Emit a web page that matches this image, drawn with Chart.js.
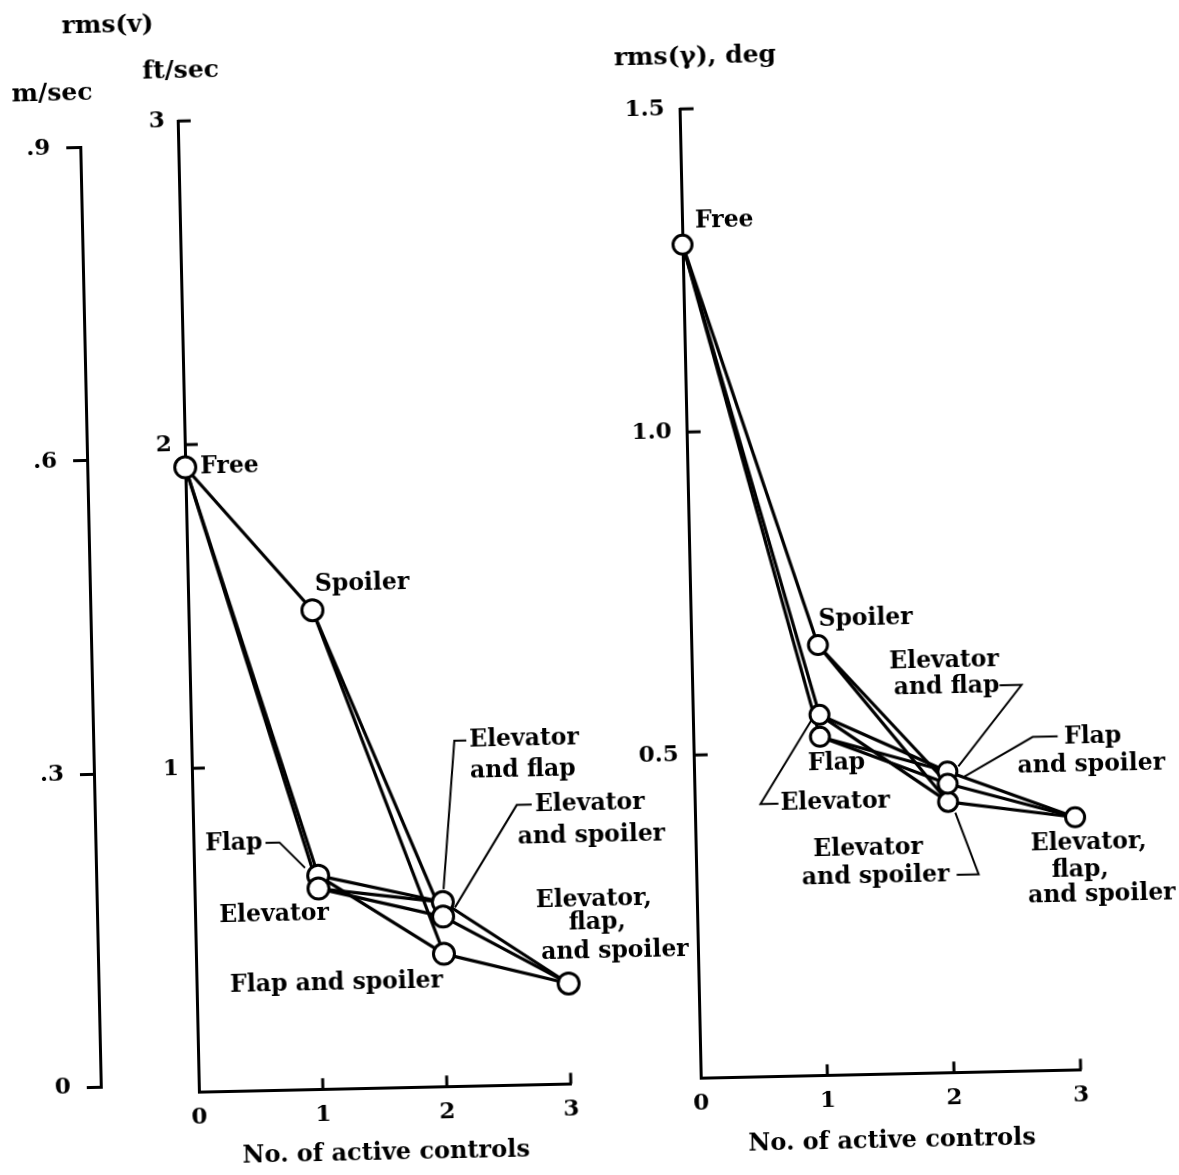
<!DOCTYPE html>
<html>
<head>
<meta charset="utf-8">
<script src="https://cdn.jsdelivr.net/npm/chart.js@4.4.1/dist/chart.umd.min.js"></script>
<style>
  html, body { margin: 0; padding: 0; background: #fff; overflow: hidden; }
  /* the scanned figure sits slightly askew on the page */
  #sheet { position: absolute; left: 0; top: 0; width: 1179px; height: 1175px;
           transform: rotate(-1.25deg); transform-origin: 589.5px 587.5px; }
  #sheet canvas { position: absolute; top: 0; }
  #velocity_chart { left: 0; }
  #gamma_chart { left: 600px; }
</style>
</head>
<body>
<div id="sheet">
  <canvas id="velocity_chart" width="710" height="1175"></canvas>
  <canvas id="gamma_chart" width="579" height="1175"></canvas>
</div>
<script>
var configurations = ['Free', 'Spoiler', 'Flap', 'Elevator', 'Elevator and flap',
                      'Elevator and spoiler', 'Flap and spoiler', 'Elevator, flap, and spoiler'];
var active_controls = [0, 1, 1, 1, 2, 2, 2, 3];
var rms_v_ftps = [1.93, 1.48, 0.66, 0.62, 0.57, 0.525, 0.41, 0.31];
var rms_gamma_deg = [1.29, 0.666, 0.524, 0.558, 0.466, 0.419, 0.447, 0.391];
// each configuration is joined to those that switch on one more control
var links = [[0,1],[0,2],[0,3],[1,5],[1,6],[2,4],[2,6],[3,4],[3,5],[4,7],[5,7],[6,7]];

var control_ticks = [0, 1, 2, 3];
var ftps_ticks = [0, 1, 2, 3];
var mps_ticks = [0, 0.3, 0.6, 0.9];
var gamma_ticks = [0, 0.5, 1.0, 1.5];

// label placement, offsets in px from the marker
var velocity_labels = [
  {point: 0, lines: [['Free', 15, 0, 'left']]},
  {point: 1, lines: [['Spoiler', 3, -25, 'left']]},
  {point: 2, lines: [['Flap', -55, -34, 'right']], leader: [[-52,-34],[-38,-34],[-13,-8]]},
  {point: 3, lines: [['Elevator', -45, 25, 'center']]},
  {point: 4, lines: [['Elevator', 30, -161, 'left'], ['and flap', 30, -130, 'left']], leader: [[27,-161],[15,-161],[1,-13]]},
  {point: 5, lines: [['Elevator', 149, -109, 'center'], ['and spoiler', 150, -77, 'center']], leader: [[91,-110],[76,-110],[12,-9]]},
  {point: 6, lines: [['Flap and spoiler', -108, 27, 'center']]},
  {point: 7, lines: [['Elevator,', 27, -83, 'center'], ['flap,', 30, -60, 'center'], ['and spoiler', 47, -31, 'center']]}
];
var gamma_labels = [
  {point: 0, lines: [['Free', 13, -23, 'left']]},
  {point: 1, lines: [['Spoiler', 1, -25, 'left']]},
  {point: 2, lines: [['Flap', 16, 27, 'center']]},
  {point: 3, lines: [['Elevator', -41, 88, 'left']], leader: [[-43,88],[-61,88],[-8,5]]},
  {point: 4, lines: [['Elevator', -1, -110, 'center'], ['and flap', 1, -84, 'center']], leader: [[54,-85],[76,-85],[11,-5]]},
  {point: 5, lines: [['Elevator', -81, 45, 'center'], ['and spoiler', -74, 73, 'center']], leader: [[7,73],[29,73],[7,11]]},
  {point: 6, lines: [['Flap', 146, -44, 'center'], ['and spoiler', 144, -16, 'center']], leader: [[111,-45],[86,-45],[17,-7]]},
  {point: 7, lines: [['Elevator,', 13, 26, 'center'], ['flap,', 4, 53, 'center'], ['and spoiler', 25, 78, 'center']]}
];

Chart.defaults.font.family = '"DejaVu Serif", serif';
Chart.defaults.font.size = 23;
Chart.defaults.font.weight = 'bold';
Chart.defaults.color = '#000';

var inner_ticks_plugin = {
  id: 'inner_ticks',
  beforeDatasetsDraw: function(chart, args, opts) {
    var ctx = chart.ctx, area = chart.chartArea;
    ctx.save();
    ctx.strokeStyle = '#000';
    ctx.lineWidth = 3;
    ['x', 'y'].forEach(function(id) {
      var s = chart.scales[id];
      s.ticks.forEach(function(t) {
        if (t.value === s.min) return;
        var p = s.getPixelForValue(t.value);
        ctx.beginPath();
        if (s.isHorizontal()) {
          ctx.moveTo(p, area.bottom);
          ctx.lineTo(p, area.bottom - opts.x_length);
        } else {
          ctx.moveTo(area.left, p);
          ctx.lineTo(area.left + opts.y_length, p);
        }
        ctx.stroke();
      });
    });
    if (opts.spine) {
      var m = chart.scales[opts.spine];
      var vals = m.ticks.map(function(t) { return t.value; });
      ctx.beginPath();
      ctx.moveTo(m.right - 1.5, m.getPixelForValue(Math.max.apply(null, vals)) - 1.5);
      ctx.lineTo(m.right - 1.5, m.getPixelForValue(Math.min.apply(null, vals)) + 1.5);
      ctx.stroke();
    }
    ctx.restore();
  }
};

var texts_plugin = {
  id: 'figure_texts',
  afterDatasetsDraw: function(chart, args, opts) {
    var ctx = chart.ctx;
    var pts = chart.getDatasetMeta(0).data;
    ctx.save();
    ctx.fillStyle = '#000';
    ctx.strokeStyle = '#000';
    ctx.lineWidth = 2;
    ctx.textBaseline = 'middle';
    ctx.font = 'bold 25px "DejaVu Serif"';
    (opts.titles || []).forEach(function(t) {
      ctx.textAlign = 'center';
      ctx.fillText(t[0], t[1], t[2]);
    });
    ctx.font = 'bold 23.5px "DejaVu Serif"';
    (opts.labels || []).forEach(function(l) {
      var p = pts[l.point];
      l.lines.forEach(function(ln) {
        ctx.textAlign = ln[3];
        ctx.fillText(ln[0], p.x + ln[1], p.y + ln[2]);
      });
      if (l.leader) {
        ctx.beginPath();
        l.leader.forEach(function(o, k) {
          if (k) ctx.lineTo(p.x + o[0], p.y + o[1]);
          else ctx.moveTo(p.x + o[0], p.y + o[1]);
        });
        ctx.stroke();
      }
    });
    ctx.restore();
  }
};

function make_datasets(values, radius) {
  var sets = [{
    label: 'configurations',
    data: active_controls.map(function(x, i) { return {x: x, y: values[i]}; }),
    pointRadius: radius,
    pointBorderWidth: 3,
    pointBackgroundColor: '#fff',
    pointBorderColor: '#000',
    showLine: false,
    order: 0,
    clip: false
  }];
  links.forEach(function(l) {
    sets.push({
      label: configurations[l[0]] + ' - ' + configurations[l[1]],
      data: [{x: active_controls[l[0]], y: values[l[0]]}, {x: active_controls[l[1]], y: values[l[1]]}],
      showLine: true,
      borderColor: '#000',
      borderWidth: 3.2,
      pointRadius: 0,
      order: 1,
      clip: false
    });
  });
  return sets;
}

function control_axis(height) {
  return {
    type: 'linear', min: 0, max: 3,
    afterBuildTicks: function(s) { s.ticks = control_ticks.map(function(v) { return {value: v}; }); },
    afterFit: function(s) { s.height = height; },
    grid: {display: false},
    border: {display: true, color: '#000', width: 3},
    ticks: {padding: 4},
    title: {display: true, text: 'No. of active controls', padding: 0, font: {size: 24}}
  };
}

new Chart(document.getElementById('velocity_chart'), {
  type: 'scatter',
  data: {datasets: make_datasets(rms_v_ftps, 10.5)},
  options: {
    responsive: false,
    animation: false,
    events: [],
    layout: {padding: {left: 0, top: 112.2, right: 150, bottom: 11.8}},
    plugins: {
      legend: {display: false},
      tooltip: {enabled: false},
      inner_ticks: {x_length: 11, y_length: 13, spine: 'ym'},
      figure_texts: {
        titles: [['rms(v)', 120, 15], ['ft/sec', 192, 62], ['m/sec', 63, 82]],
        labels: velocity_labels
      }
    },
    scales: {
      x: control_axis(79.9),
      y: {
        type: 'linear', position: 'left', weight: 0, min: 0, max: 3,
        afterBuildTicks: function(s) { s.ticks = ftps_ticks.map(function(v) { return {value: v}; }); },
        afterFit: function(s) { s.width = 96; },
        grid: {display: false},
        border: {display: true, color: '#000', width: 3},
        ticks: {padding: 5, callback: function(v) { return v === 0 ? '' : String(v); }}
      },
      ym: {
        type: 'linear', position: 'left', weight: 1, min: -0.0065, max: 0.9235,
        afterBuildTicks: function(s) { s.ticks = mps_ticks.map(function(v) { return {value: v}; }); },
        afterFit: function(s) { s.width = 92; },
        grid: {display: true, drawOnChartArea: false, drawTicks: true, tickLength: 16, color: '#000', lineWidth: 3},
        border: {display: false},
        ticks: {padding: 16, callback: function(v) { return v === 0 ? '0' : '.' + Math.round(v * 10); }}
      }
    }
  },
  plugins: [inner_ticks_plugin, texts_plugin]
});

new Chart(document.getElementById('gamma_chart'), {
  type: 'scatter',
  data: {datasets: make_datasets(rms_gamma_deg, 9.5)},
  options: {
    responsive: false,
    animation: false,
    events: [],
    layout: {padding: {left: 0, top: 111.1, right: 109, bottom: 12.4}},
    plugins: {
      legend: {display: false},
      tooltip: {enabled: false},
      inner_ticks: {x_length: 11, y_length: 14},
      figure_texts: {
        titles: [['rms(\u03b3), deg', 106.5, 59.4]],
        labels: gamma_labels
      }
    },
    scales: {
      x: control_axis(82.2),
      y: {
        type: 'linear', position: 'left', min: 0, max: 1.5,
        afterBuildTicks: function(s) { s.ticks = gamma_ticks.map(function(v) { return {value: v}; }); },
        afterFit: function(s) { s.width = 90; },
        grid: {display: false},
        border: {display: true, color: '#000', width: 3},
        ticks: {padding: 7, callback: function(v) { return v === 0 ? '' : v.toFixed(1); }}
      }
    }
  },
  plugins: [inner_ticks_plugin, texts_plugin]
});
</script>
</body>
</html>
